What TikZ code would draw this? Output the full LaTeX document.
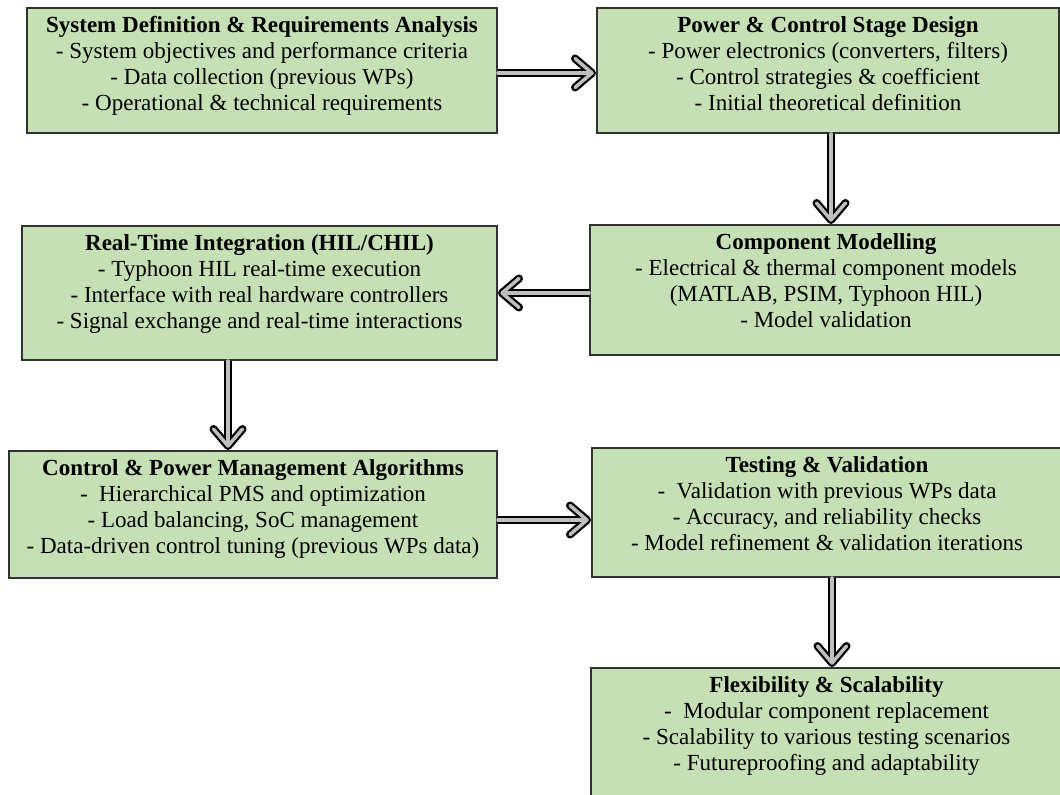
\documentclass[tikz,border=0pt]{standalone}
\usepackage{fontspec}
\setmainfont{Liberation Serif}
\usepackage{xcolor}
\usepackage{tikz}
\usetikzlibrary{positioning,calc,arrows.meta}
\definecolor{BoxGreen}{RGB}{197,224,180}
\definecolor{BoxLine}{RGB}{50,50,50}
\tikzset{
    stagebox/.style={rectangle, draw=BoxLine, fill=BoxGreen, line width=0.04cm, inner sep=0pt},
    stagetext/.style={align=center, anchor=north, inner sep=0pt, font=\fontsize{13.1}{14.8}\selectfont}
}

\begin{document}
\begin{tikzpicture}[
        % --- STYLE ---
        % Mui ten: vien den, loi xam
        flowarrow/.style={
            line cap=round,
            preaction={draw=black, line width=0.16cm, shorten >=0pt,
                -{Straight Barb[round, length=0.34cm, width=0.58cm]}},
            draw=black!25, line width=0.07cm, shorten >=0.045cm,
            -{Straight Barb[round, length=0.34cm, width=0.58cm]}
        }
    ]

        \path[use as bounding box] (0,0) rectangle (21.2,-15.88);
        \clip (0,0) rectangle (21.2,-15.88);

        % --- CAC HOP ---
        \node[stagebox, minimum width=9.4cm, minimum height=2.5cm] (sys) at (5.24,-1.41) {};
        \node[stagebox, minimum width=9.24cm, minimum height=2.5cm] (pwr) at (16.56,-1.41) {};
        \node[stagebox, minimum width=9.44cm, minimum height=2.6cm] (comp) at (16.52,-5.8) {};
        \node[stagebox, minimum width=9.5cm, minimum height=2.68cm] (rt) at (5.19,-5.86) {};
        \node[stagebox, minimum width=9.76cm, minimum height=2.54cm] (ctrl) at (5.06,-10.29) {};
        \node[stagebox, minimum width=9.4cm, minimum height=2.58cm] (test) at (16.54,-10.25) {};
        \node[stagebox, minimum width=9.42cm, minimum height=2.56cm] (flex) at (16.53,-14.64) {};

        % --- NOI DUNG ---
        \node[stagetext] (sys-t) at ([yshift=-0.18cm]sys.north)
            {\textbf{System Definition \& Requirements Analysis}\\
             - System objectives and performance criteria\\
             - Data collection (previous WPs)\\
             - Operational \& technical requirements};
        \node[stagetext] (pwr-t) at ([yshift=-0.18cm]pwr.north)
            {\textbf{Power \& Control Stage Design}\\
             - Power electronics (converters, filters)\\
             - Control strategies \& coefficient\\
             - Initial theoretical definition};
        \node[stagetext] (comp-t) at ([yshift=-0.18cm]comp.north)
            {\textbf{Component Modelling}\\
             - Electrical \& thermal component models\\
             (MATLAB, PSIM, Typhoon HIL)\\
             - Model validation};
        \node[stagetext] (rt-t) at ([yshift=-0.18cm]rt.north)
            {\textbf{Real-Time Integration (HIL/CHIL)}\\
             - Typhoon HIL real-time execution\\
             - Interface with real hardware controllers\\
             - Signal exchange and real-time interactions};
        \node[stagetext] (ctrl-t) at ([yshift=-0.18cm]ctrl.north)
            {\textbf{Control \& Power Management Algorithms}\\
             - \ Hierarchical PMS and optimization\\
             - Load balancing, SoC management\\
             - Data-driven control tuning (previous WPs data)};
        \node[stagetext] (test-t) at ([yshift=-0.18cm]test.north)
            {\textbf{Testing \& Validation}\\
             - \ Validation with previous WPs data\\
             - Accuracy, and reliability checks\\
             - Model refinement \& validation iterations};
        \node[stagetext] (flex-t) at ([yshift=-0.18cm]flex.north)
            {\textbf{Flexibility \& Scalability}\\
             - \ Modular component replacement\\
             - Scalability to various testing scenarios\\
             - Futureproofing and adaptability};

        % --- MUI TEN ---
        \coordinate (rt-out) at ($(rt.south west)!0.434!(rt.south east)$);
        \draw[flowarrow] ([yshift=-0.05cm]sys.east) -- ([yshift=-0.05cm]sys.east -| pwr.west);
        \draw[flowarrow] ([xshift=0.06cm]pwr.south) -- ([xshift=0.06cm]pwr.south |- comp.north);
        \draw[flowarrow] (comp.west |- rt.east) -- (rt.east);
        \draw[flowarrow] (rt-out) -- (rt-out |- ctrl.north);
        \draw[flowarrow] ([yshift=-0.11cm]ctrl.east) -- ([yshift=-0.11cm]ctrl.east -| test.west);
        \draw[flowarrow] ([xshift=0.1cm]test.south) -- ([xshift=0.1cm]test.south |- flex.north);

    \end{tikzpicture}
\end{document}
